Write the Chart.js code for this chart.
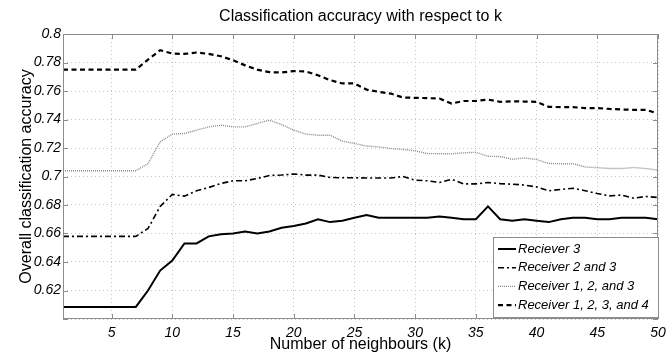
<!DOCTYPE html>
<html>
<head>
<meta charset="utf-8">
<script src="https://cdn.jsdelivr.net/npm/chart.js@4"></script>
<style>
html,body{margin:0;padding:0;background:#fff;}
#wrap{width:672px;height:353px;position:relative;}
</style>
</head>
<body>
<div id="wrap"><canvas id="c" width="672" height="353"></canvas></div>
<script>
const kValues = [1,2,3,4,5,6,7,8,9,10,11,12,13,14,15,16,17,18,19,20,21,22,23,24,25,26,27,28,29,30,31,32,33,34,35,36,37,38,39,40,41,42,43,44,45,46,47,48,49,50];
const xTickValues = [5,10,15,20,25,30,35,40,45,50];
const seriesNames = ["Reciever 3","Receiver 2 and 3","Receiver 1, 2, and 3","Receiver 1, 2, 3, and 4"];

const receiver3 = [0.6085,0.6085,0.6085,0.6085,0.6085,0.6085,0.6085,0.620,0.634,0.641,0.653,0.653,0.658,0.6595,0.660,0.6614,0.660,0.6614,0.664,0.6653,0.667,0.670,0.668,0.669,0.671,0.673,0.671,0.671,0.671,0.671,0.671,0.672,0.671,0.670,0.670,0.679,0.670,0.669,0.670,0.669,0.668,0.670,0.671,0.671,0.670,0.670,0.671,0.671,0.671,0.670];
const receiver23 = [0.658,0.658,0.658,0.658,0.658,0.658,0.658,0.6635,0.679,0.6874,0.6862,0.690,0.6923,0.6951,0.697,0.697,0.6986,0.7007,0.701,0.7018,0.701,0.701,0.6993,0.6991,0.6991,0.699,0.699,0.699,0.700,0.6974,0.697,0.6958,0.698,0.6948,0.6948,0.6958,0.695,0.6946,0.694,0.6927,0.690,0.6909,0.6918,0.690,0.6881,0.6864,0.687,0.6848,0.686,0.6853];
const receiver123 = [0.704,0.704,0.704,0.704,0.704,0.704,0.704,0.709,0.7243,0.7297,0.7302,0.7325,0.7348,0.736,0.7348,0.7348,0.7372,0.7395,0.7365,0.7325,0.7297,0.729,0.729,0.7248,0.7232,0.7213,0.7208,0.7196,0.719,0.718,0.7161,0.716,0.716,0.7166,0.717,0.7142,0.714,0.7121,0.713,0.7119,0.7091,0.709,0.709,0.7067,0.7062,0.7056,0.7056,0.7063,0.7056,0.7044];
const receiver1234 = [0.775,0.775,0.775,0.775,0.775,0.775,0.775,0.782,0.7886,0.7863,0.786,0.787,0.786,0.7844,0.7816,0.778,0.775,0.7732,0.773,0.774,0.7737,0.771,0.7676,0.7653,0.7653,0.761,0.7594,0.7582,0.7554,0.7552,0.755,0.7547,0.7512,0.753,0.753,0.754,0.7524,0.7528,0.7526,0.7524,0.7489,0.7487,0.7487,0.748,0.748,0.7474,0.747,0.7468,0.7468,0.7442];

const FONT = '"Liberation Sans", Arial, Helvetica, sans-serif';
const styles = [
  {color:'#000', width:2, dash:[]},
  {color:'#000', width:1.6, dash:[6,3,2,3]},
  {color:'#8a8a8a', width:1.4, dash:[1,1]},
  {color:'#000', width:2.2, dash:[5,3.5]}
];
const allSeries = [receiver3, receiver23, receiver123, receiver1234];

const datasets = allSeries.map((vals, i) => ({
  label: seriesNames[i],
  data: kValues.map((k, j) => ({x:k, y:vals[j]})),
  borderColor: styles[i].color,
  borderWidth: styles[i].width,
  borderDash: styles[i].dash,
  pointRadius: 0,
  tension: 0,
  fill: false
}));

const framePlugin = {
  id: 'frame',
  afterDatasetsDraw(chart) {
    const {ctx, chartArea:a} = chart;
    ctx.save();
    ctx.strokeStyle = '#8c8c8c';
    ctx.lineWidth = 1;
    ctx.setLineDash([]);
    ctx.strokeRect(a.left + 0.5, a.top + 0.5, a.right - a.left - 1, a.bottom - a.top - 1);
    const xs = chart.scales.x, ys = chart.scales.y;
    ctx.beginPath();
    xTickValues.forEach(v => {
      const px = Math.round(xs.getPixelForValue(v)) + 0.5;
      ctx.moveTo(px, a.bottom); ctx.lineTo(px, a.bottom - 5);
      ctx.moveTo(px, a.top); ctx.lineTo(px, a.top + 5);
    });
    ys.ticks.forEach(t => {
      const py = Math.round(ys.getPixelForValue(t.value)) + 0.5;
      ctx.moveTo(a.left, py); ctx.lineTo(a.left + 5, py);
      ctx.moveTo(a.right, py); ctx.lineTo(a.right - 5, py);
    });
    ctx.stroke();

    ctx.fillStyle = '#000';
    ctx.font = '16px ' + FONT;
    ctx.textAlign = 'center';
    ctx.textBaseline = 'middle';
    ctx.fillText('Classification accuracy with respect to k', (a.left + a.right) / 2, 17);

    const lx = 493, ly = 237, lw = a.right - 493, lh = a.bottom - 237 - 2;
    ctx.fillStyle = '#fff';
    ctx.fillRect(lx, ly, lw, lh);
    ctx.strokeStyle = '#8c8c8c';
    ctx.strokeRect(lx + 0.5, ly + 0.5, lw, lh);
    ctx.font = 'italic 13px ' + FONT;
    ctx.textAlign = 'left';
    seriesNames.forEach((name, i) => {
      const y = 249 + i * 18.7;
      ctx.strokeStyle = styles[i].color;
      ctx.lineWidth = styles[i].width;
      ctx.setLineDash(styles[i].dash);
      ctx.beginPath();
      ctx.moveTo(498, y); ctx.lineTo(516, y);
      ctx.stroke();
      ctx.fillStyle = '#000';
      ctx.fillText(name, 518, y);
    });
    ctx.restore();
  }
};

new Chart(document.getElementById('c'), {
  type: 'line',
  data: { datasets },
  options: {
    responsive: false,
    animation: false,
    layout: { padding: { top: 34, right: 14, left: 0, bottom: 0 } },
    plugins: { legend: { display: false }, title: { display: false }, tooltip: { enabled: false } },
    scales: {
      x: {
        type: 'linear',
        min: 1, max: 50,
        afterBuildTicks(scale) { scale.ticks = xTickValues.map(v => ({value: v})); },
        afterFit(scale) { scale.height = 34; },
        grid: { color: '#c4c4c4', lineWidth: 1, drawTicks: false },
        border: { display: false, dash: [1,3] },
        ticks: { color: '#000', font: { family: FONT, size: 14, style: 'italic' }, padding: 6, maxRotation: 0 },
        title: { display: true, text: 'Number of neighbours (k)', color: '#000', font: { family: FONT, size: 16, lineHeight: 1 }, padding: { top: 0, bottom: 0 } }
      },
      y: {
        min: 0.6, max: 0.8,
        afterBuildTicks(scale) {
          const t = [];
          for (let i = 0; i <= 10; i++) t.push({value: +(0.6 + i * 0.02).toFixed(2)});
          scale.ticks = t;
        },
        afterFit(scale) { scale.width = 63; },
        grid: { color: '#c4c4c4', lineWidth: 1, drawTicks: false },
        border: { display: false, dash: [1,3] },
        ticks: {
          color: '#000', font: { family: FONT, size: 14, style: 'italic' }, padding: 2,
          callback: (v) => (Math.abs(v - 0.6) < 1e-9 ? '' : String(Number(v.toFixed(2))))
        },
        title: { display: true, text: 'Overall classification accuracy', color: '#000', font: { family: FONT, size: 16, lineHeight: 1.2 }, padding: { top: 17, bottom: 0 } }
      }
    }
  },
  plugins: [framePlugin]
});
</script>
</body>
</html>
